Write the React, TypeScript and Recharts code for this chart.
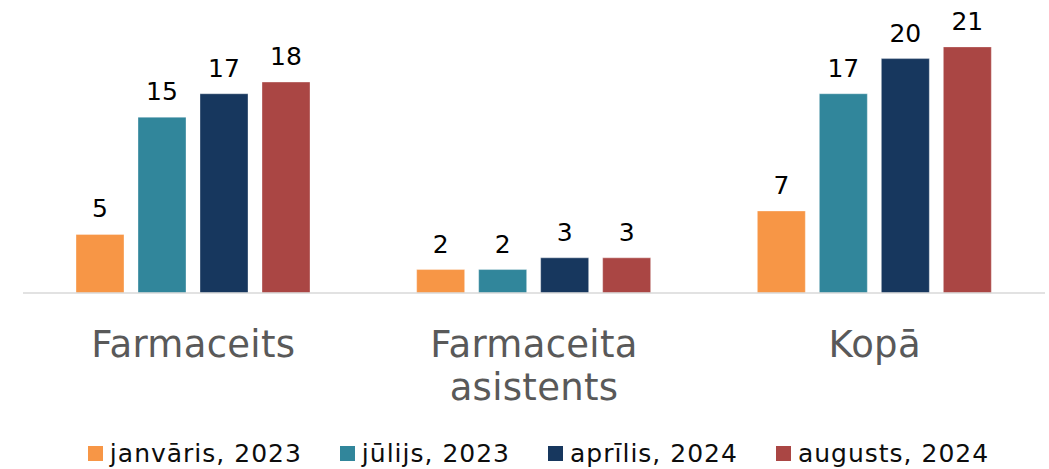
import React from "react";
import { BarChart, Bar, XAxis, YAxis, Legend, LabelList } from "recharts";

const categories = ["Farmaceits", "Farmaceita asistents", "Kopā"];
const jan2023 = [5, 2, 7];
const jul2023 = [15, 2, 17];
const apr2024 = [17, 3, 20];
const aug2024 = [18, 3, 21];

const seriesNames = ["janvāris, 2023", "jūlijs, 2023", "aprīlis, 2024", "augusts, 2024"];
const seriesKeys = ["jan2023", "jul2023", "apr2024", "aug2024"];
const colors = ["#F79646", "#31869B", "#17375E", "#AA4644"];

const data = categories.map((name, i) => ({
  name,
  jan2023: jan2023[i],
  jul2023: jul2023[i],
  apr2024: apr2024[i],
  aug2024: aug2024[i],
}));

const FONT = "'DejaVu Sans', Verdana, sans-serif";

// category names wrap on spaces, one word per line
function CategoryTick(props: any) {
  const { x, y, payload } = props;
  const lines = String(payload.value).split(" ");
  return (
    <text
      x={x}
      y={y}
      textAnchor="middle"
      fill="#595959"
      fontSize={37}
      letterSpacing={0.3}
      fontFamily={FONT}
    >
      {lines.map((line, i) => (
        <tspan key={i} x={x} y={y + 64 + i * 43}>
          {line}
        </tspan>
      ))}
    </text>
  );
}

function LegendContent() {
  return (
    <div
      style={{
        display: "flex",
        justifyContent: "center",
        gap: 38,
        fontFamily: FONT,
        fontSize: 25,
        letterSpacing: 1,
        color: "#0d0d0d",
        paddingLeft: 9,
        paddingTop: 6,
      }}
    >
      {seriesNames.map((n, i) => (
        <div key={n} style={{ display: "flex", alignItems: "center", gap: 7 }}>
          <span style={{ width: 15, height: 15, background: colors[i], display: "inline-block" }} />
          <span>{n}</span>
        </div>
      ))}
    </div>
  );
}

export default function App() {
  return (
    <div style={{ position: "absolute", left: 0, top: 0, background: "#fff" }}>
      <BarChart
        width={1049}
        height={469}
        data={data}
        margin={{ top: 0, right: 4, left: 23, bottom: 0 }}
        barSize={48}
        barGap={14}
      >
        <XAxis
          dataKey="name"
          axisLine={{ stroke: "#D9D9D9", strokeWidth: 1.5 }}
          tickLine={false}
          tickSize={0}
          tickMargin={0}
          interval={0}
          height={140}
          tick={<CategoryTick />}
        />
        <YAxis hide domain={[0, 25]} />
        <Legend verticalAlign="bottom" height={36} content={<LegendContent />} />
        {seriesKeys.map((k, i) => (
          <Bar
            key={k}
            dataKey={k}
            name={seriesNames[i]}
            fill={colors[i]}
            stroke="#ffffff"
            strokeOpacity={0.35}
            isAnimationActive={false}
          >
            <LabelList
              dataKey={k}
              position="top"
              offset={17}
              fill="#000"
              fontSize={25}
              fontFamily={FONT}
            />
          </Bar>
        ))}
      </BarChart>
    </div>
  );
}
